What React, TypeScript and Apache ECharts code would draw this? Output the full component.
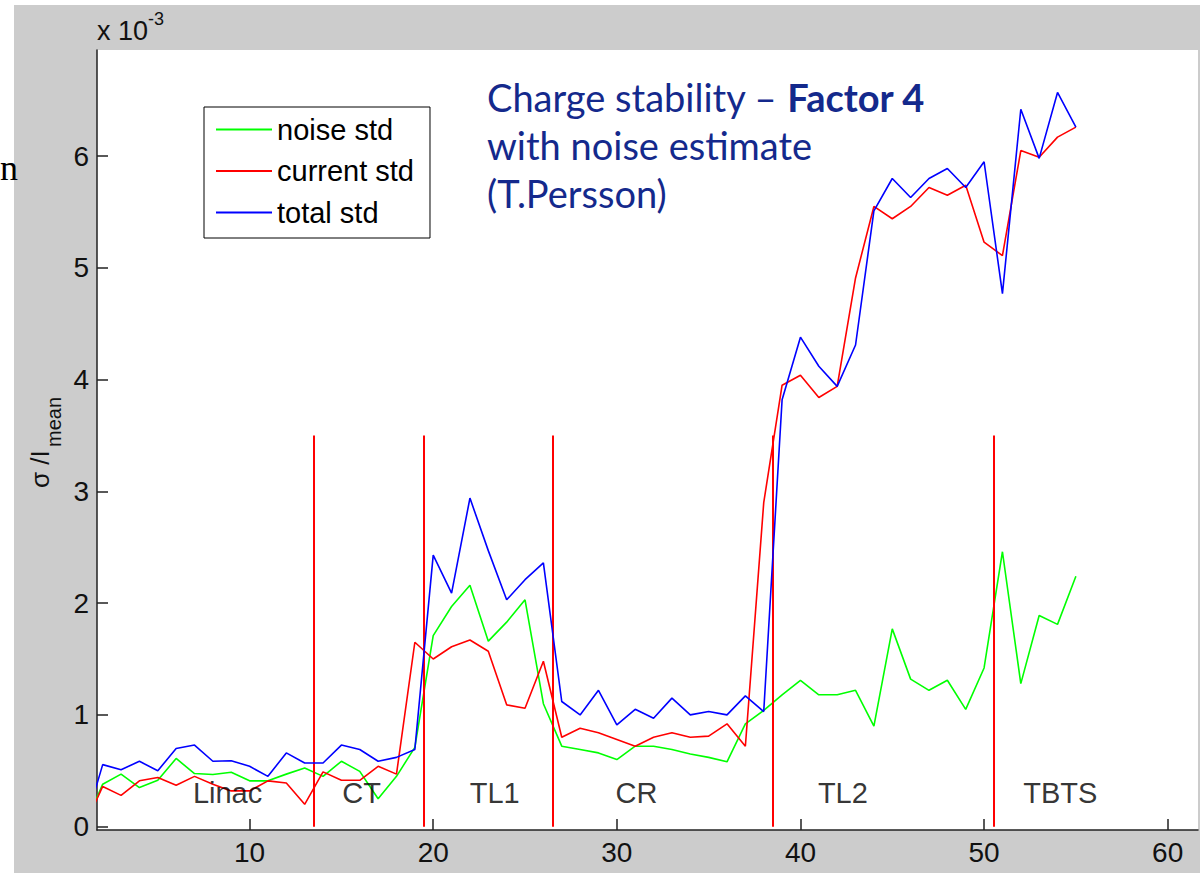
import React, { useEffect, useRef } from "react";
import * as echarts from "echarts";

const sampleIndex = [
  1, 2, 3, 4, 5, 6, 7, 8, 9, 10, 11, 12, 13, 14, 15, 16, 17, 18, 19, 20,
  21, 22, 23, 24, 25, 26, 27, 28, 29, 30, 31, 32, 33, 34, 35, 36, 37, 38, 39, 40,
  41, 42, 43, 44, 45, 46, 47, 48, 49, 50, 51, 52, 53, 54, 55,
];

const noiseStd = [
  0, 0.38, 0.47, 0.35, 0.415, 0.61, 0.475, 0.466, 0.487, 0.41, 0.41, 0.47, 0.525, 0.45, 0.585, 0.495, 0.25, 0.45, 0.71, 1.71,
  1.97, 2.16, 1.66, 1.83, 2.03, 1.1, 0.72, 0.69, 0.66, 0.6, 0.72, 0.72, 0.69, 0.65, 0.62, 0.58, 0.92, 1.04, 1.18, 1.31,
  1.18, 1.18, 1.22, 0.9, 1.77, 1.32, 1.22, 1.31, 1.05, 1.42, 2.46, 1.28, 1.89, 1.81, 2.24,
];

const currentStd = [
  0, 0.36, 0.28, 0.41, 0.44, 0.37, 0.45, 0.38, 0.32, 0.32, 0.41, 0.39, 0.2, 0.49, 0.415, 0.415, 0.54, 0.47, 1.65, 1.5,
  1.61, 1.67, 1.57, 1.09, 1.06, 1.48, 0.8, 0.88, 0.84, 0.78, 0.72, 0.8, 0.84, 0.8, 0.81, 0.92, 0.72, 2.9, 3.95, 4.04,
  3.84, 3.94, 4.91, 5.55, 5.44, 5.55, 5.72, 5.65, 5.74, 5.23, 5.11, 6.05, 5.99, 6.17, 6.26,
];

const totalStd = [
  0, 0.555, 0.51, 0.585, 0.5, 0.7, 0.73, 0.585, 0.59, 0.54, 0.45, 0.66, 0.57, 0.57, 0.73, 0.69, 0.585, 0.62, 0.69, 2.43,
  2.09, 2.94, 2.47, 2.03, 2.21, 2.36, 1.12, 1.0, 1.22, 0.91, 1.05, 0.97, 1.15, 1.0, 1.03, 1.0, 1.17, 1.03, 3.82, 4.38,
  4.12, 3.94, 4.31, 5.51, 5.8, 5.63, 5.8, 5.89, 5.72, 5.95, 4.77, 6.42, 5.98, 6.57, 6.26,
];

const seriesNames = ["noise std", "current std", "total std"];
const seriesColors = ["#00ff00", "#ff0000", "#0000ff"];

const sectionBoundaries = [13.5, 19.5, 26.5, 38.5, 50.5];
const boundaryTop = 3.5;

const sectionNames = ["Linac", "CT", "TL1", "CR", "TL2", "TBTS"];
const sectionLabelX = [8.8, 16.1, 23.35, 31.07, 42.31, 54.15];
const sectionLabelY = 0.3;

const xTicks = [10, 20, 30, 40, 50, 60];
const yTicks = [0, 1, 2, 3, 4, 5, 6];

const FONT = "'Liberation Sans', Arial, Helvetica, sans-serif";
const TITLE_FONT = "Lato, 'Open Sans', sans-serif";
const TITLE_COLOR = "#14298c";

export default function App() {
  const ref = useRef<HTMLDivElement>(null);

  useEffect(() => {
    if (!ref.current) return;
    const chart = echarts.init(ref.current, null, { renderer: "svg" });

    const seriesData = [noiseStd, currentStd, totalStd];

    const lineSeries: any[] = seriesNames.map((name, i) => ({
      name,
      type: "line",
      symbol: "none",
      showSymbol: false,
      clip: true,
      z: 3 + i,
      lineStyle: { color: seriesColors[i], width: 1.6 },
      itemStyle: { color: seriesColors[i] },
      data: sampleIndex.map((x, k) => [x, seriesData[i][k]]),
    }));

    lineSeries[0].markLine = {
      silent: true,
      symbol: ["none", "none"],
      label: { show: false },
      lineStyle: { color: "#ff0000", width: 2, type: "solid" },
      data: sectionBoundaries.map((b) => [
        { coord: [b, 0] },
        { coord: [b, boundaryTop] },
      ]),
    };

    const option: any = {
      animation: false,
      backgroundColor: "transparent",
      grid: {
        left: 97,
        top: 50,
        width: 1101,
        height: 780,
        show: true,
        backgroundColor: "#ffffff",
        borderWidth: 0,
        containLabel: false,
      },
      legend: {
        data: seriesNames.map((n) => ({ name: n, icon: "rect" })),
        orient: "vertical",
        left: 204,
        top: 107,
        itemWidth: 56,
        itemHeight: 2,
        itemGap: 11.5,
        padding: [7.6, 16, 10.4, 12],
        borderColor: "#000",
        borderWidth: 1,
        backgroundColor: "#fff",
        selectedMode: false,
        textStyle: { fontFamily: FONT, fontSize: 29, color: "#000", lineHeight: 30 },
      },
      xAxis: {
        type: "value",
        min: 1.69,
        max: 61.65,
        minInterval: 10,
        maxInterval: 10,
        axisLine: { show: true, onZero: false, lineStyle: { color: "#222", width: 1.5 } },
        axisTick: { show: true, inside: true, length: 11, customValues: xTicks, lineStyle: { color: "#222", width: 1.5 } },
        axisLabel: {
          customValues: xTicks,
          fontFamily: FONT,
          fontSize: 28,
          color: "#111",
          margin: 8,
          formatter: (v: number) => (xTicks.indexOf(Math.round(v)) >= 0 && Math.abs(v - Math.round(v)) < 1e-6 ? String(Math.round(v)) : ""),
        },
        splitLine: { show: false },
      },
      yAxis: {
        type: "value",
        min: -0.03,
        max: 6.95,
        minInterval: 1,
        maxInterval: 1,
        axisLine: { show: true, onZero: false, lineStyle: { color: "#222", width: 1.5 } },
        axisTick: { show: true, inside: true, length: 11, customValues: yTicks, lineStyle: { color: "#222", width: 1.5 } },
        axisLabel: {
          customValues: yTicks,
          fontFamily: FONT,
          fontSize: 28,
          color: "#111",
          margin: 8,
          formatter: (v: number) => (Math.abs(v - Math.round(v)) < 1e-6 ? String(Math.round(v)) : ""),
        },
        splitLine: { show: false },
      },
      series: [
        ...lineSeries,
        {
          name: "sections",
          type: "scatter",
          silent: true,
          z: 10,
          symbolSize: 1,
          itemStyle: { color: "rgba(0,0,0,0)" },
          label: {
            show: true,
            position: "inside",
            formatter: "{b}",
            fontFamily: FONT,
            fontSize: 29,
            color: "#000",
            textBorderWidth: 0,
          },
          data: sectionNames.map((n, i) => ({ name: n, value: [sectionLabelX[i], sectionLabelY] })),
        },
      ],
      graphic: [
        {
          type: "text",
          x: 0,
          y: 168,
          style: { text: "n", fontFamily: "'Liberation Serif', 'DejaVu Serif', serif", fontSize: 36, fill: "#000", align: "left", verticalAlign: "middle" },
        },
        {
          type: "text",
          x: 97,
          y: 31,
          style: { text: "x 10", fontFamily: FONT, fontSize: 27, fill: "#111", align: "left", verticalAlign: "middle" },
        },
        {
          type: "text",
          x: 148,
          y: 19,
          style: { text: "-3", fontFamily: FONT, fontSize: 18, fill: "#111", align: "left", verticalAlign: "middle" },
        },
        {
          type: "text",
          x: 40,
          y: 488,
          rotation: Math.PI / 2,
          style: { text: "σ /I", fontFamily: FONT, fontSize: 26, fill: "#111", align: "left", verticalAlign: "middle" },
        },
        {
          type: "text",
          x: 54,
          y: 447,
          rotation: Math.PI / 2,
          style: { text: "mean", fontFamily: FONT, fontSize: 20, fill: "#111", align: "left", verticalAlign: "middle" },
        },
        {
          type: "text",
          x: 487,
          y: 73,
          z: 10,
          style: {
            text: "{n|Charge stability – }{b|Factor 4}\n{n|with noise estimate}\n{n|(T.Persson)}",
            align: "left",
            verticalAlign: "top",
            rich: {
              n: { fontFamily: TITLE_FONT, fontSize: 38, fill: TITLE_COLOR, color: TITLE_COLOR, lineHeight: 48 },
              b: { fontFamily: TITLE_FONT, fontSize: 38, fontWeight: "bold", fill: TITLE_COLOR, color: TITLE_COLOR, lineHeight: 48 },
            },
          },
        },
      ],
    };

    chart.setOption(option);
    return () => chart.dispose();
  }, []);

  return (
    <div style={{ position: "absolute", left: 0, top: 0, width: 1200, height: 873, background: "#ffffff", overflow: "hidden" }}>
      <div style={{ position: "absolute", left: 14, top: 5, width: 1186, height: 868, background: "#cccccc" }} />
      <div ref={ref} style={{ position: "absolute", left: 0, top: 0, width: 1200, height: 873 }} />
    </div>
  );
}
